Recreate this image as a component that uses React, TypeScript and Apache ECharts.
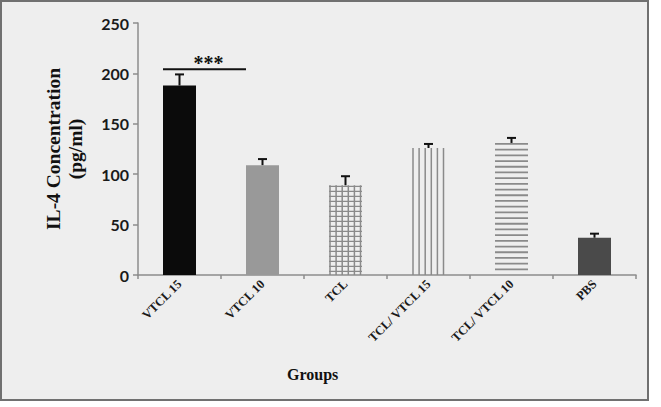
import React, { useEffect, useRef } from "react";
import * as echarts from "echarts";

const categories = ["VTCL 15", "VTCL 10", "TCL", "TCL/ VTCL 15", "TCL/ VTCL 10", "PBS"];
const means = [188, 109, 89, 126, 131, 37];
const errors = [11, 6, 9, 4, 5, 4];
const yTicks = [0, 50, 100, 150, 200, 250];
const sigFrom = 0;
const sigTo = 1;
const sigValue = 204;
const sigLabel = "***";

const fillKinds = ["solid", "solid", "grid", "vlines", "hlines", "solid"];
const fillColors = ["#0b0b0b", "#999999", "transparent", "transparent", "transparent", "#4a4a4a"];
const BAR_W = 33;
const HALF = BAR_W / 2;
const PAT = "#8a8a8a";

export default function App() {
  const ref = useRef<HTMLDivElement>(null);
  useEffect(() => {
    document.body.style.margin = "0";
    const chart = echarts.init(ref.current!, null, { renderer: "svg" });
    const patternItem = (params: any, api: any) => {
      const i = api.value(0);
      const v = api.value(1);
      const kind = fillKinds[i];
      const base = api.coord([i, 0]);
      const top = api.coord([i, v]);
      const left = base[0] - HALF;
      const right = base[0] + HALF;
      const children: any[] = [];
      if (kind === "vlines" || kind === "grid") {
        for (let k = 0; k < 6; k++) {
          const x = left + 1 + k * 6.1;
          children.push({
            type: "line",
            shape: { x1: x, y1: top[1], x2: x, y2: base[1] },
            style: { stroke: PAT, lineWidth: 1.5 },
          });
        }
      }
      if (kind === "hlines" || kind === "grid") {
        const step = kind === "grid" ? 5 : 5.7;
        for (let y = top[1] + 1; y < base[1]; y += step) {
          children.push({
            type: "line",
            shape: { x1: left, y1: y, x2: right, y2: y },
            style: { stroke: PAT, lineWidth: kind === "grid" ? 1.3 : 1.8 },
          });
        }
      }
      return { type: "group", children };
    };
    const errorItem = (params: any, api: any) => {
      const i = api.value(0);
      const m = api.value(1);
      const e = api.value(2);
      const p0 = api.coord([i, m]);
      const p1 = api.coord([i, m + e]);
      return {
        type: "group",
        children: [
          { type: "line", shape: { x1: p0[0], y1: p0[1], x2: p1[0], y2: p1[1] }, style: { stroke: "#111", lineWidth: 2 } },
          { type: "line", shape: { x1: p1[0] - 4.5, y1: p1[1], x2: p1[0] + 4.5, y2: p1[1] }, style: { stroke: "#111", lineWidth: 2 } },
        ],
      };
    };
    const sigItem = (params: any, api: any) => {
      const a = api.coord([api.value(0), api.value(2)]);
      const b = api.coord([api.value(1), api.value(2)]);
      const x0 = a[0] - HALF;
      const x1 = b[0] - HALF;
      return {
        type: "group",
        children: [
          { type: "line", shape: { x1: x0, y1: a[1], x2: x1, y2: a[1] }, style: { stroke: "#111", lineWidth: 2 } },
          {
            type: "text",
            style: {
              x: (x0 + x1) / 2 + 4,
              y: a[1] + 4,
              text: sigLabel,
              fill: "#111",
              font: "bold 20px 'Liberation Serif'",
              align: "center",
              verticalAlign: "bottom",
            },
          },
        ],
      };
    };
    chart.setOption({
      animation: false,
      backgroundColor: "#ffffff",
      graphic: [
        {
          type: "rect",
          z: -10,
          shape: { x: 1, y: 1, width: 647, height: 399 },
          style: { fill: "#eeeeee", stroke: "#707070", lineWidth: 2 },
        },
        {
          type: "text",
          left: 287,
          top: 366,
          style: { text: "Groups", fill: "#111", font: "bold 16px 'Liberation Serif'" },
        },
      ],
      grid: { left: 138, right: 25, top: 23, bottom: 132, containLabel: false },
      xAxis: {
        type: "category",
        data: categories,
        axisLine: { lineStyle: { color: "#8c8c8c", width: 1.5 } },
        axisTick: { show: true, length: 4, lineStyle: { color: "#8c8c8c", width: 1.5 } },
        axisLabel: {
          rotate: 45,
          interval: 0,
          margin: 7,
          color: "#1a1a1a",
          fontFamily: "Liberation Serif",
          fontWeight: "bold",
          fontSize: 12.5,
        },
      },
      yAxis: {
        type: "value",
        min: yTicks[0],
        max: yTicks[yTicks.length - 1],
        interval: yTicks[1] - yTicks[0],
        name: "IL-4 Concentration\n(pg/ml)",
        nameLocation: "middle",
        nameRotate: 90,
        nameGap: 52,
        nameTextStyle: {
          color: "#111",
          fontFamily: "Liberation Serif",
          fontWeight: "bold",
          fontSize: 19.5,
          lineHeight: 22,
        },
        axisLine: { show: true, lineStyle: { color: "#8c8c8c", width: 1.5 } },
        axisTick: { show: true, length: 5, lineStyle: { color: "#8c8c8c", width: 1.5 } },
        splitLine: { show: false },
        axisLabel: { color: "#1a1a1a", fontFamily: "Lato", fontWeight: "bold", fontSize: 16, margin: 9 },
      },
      series: [
        {
          type: "bar",
          barWidth: BAR_W,
          data: means.map((v, i) => ({ value: v, itemStyle: { color: fillColors[i] } })),
          z: 2,
        },
        {
          type: "custom",
          renderItem: patternItem,
          data: means.map((v, i) => [i, v]).filter((d) => fillKinds[d[0]] !== "solid"),
          z: 3,
        },
        {
          type: "custom",
          renderItem: errorItem,
          data: means.map((v, i) => [i, v, errors[i]]),
          z: 4,
        },
        {
          type: "custom",
          renderItem: sigItem,
          data: [[sigFrom, sigTo, sigValue]],
          z: 4,
        },
      ],
    });
    return () => chart.dispose();
  }, []);
  return <div ref={ref} style={{ position: "fixed", left: 0, top: 0, width: 661, height: 407 }} />;
}
